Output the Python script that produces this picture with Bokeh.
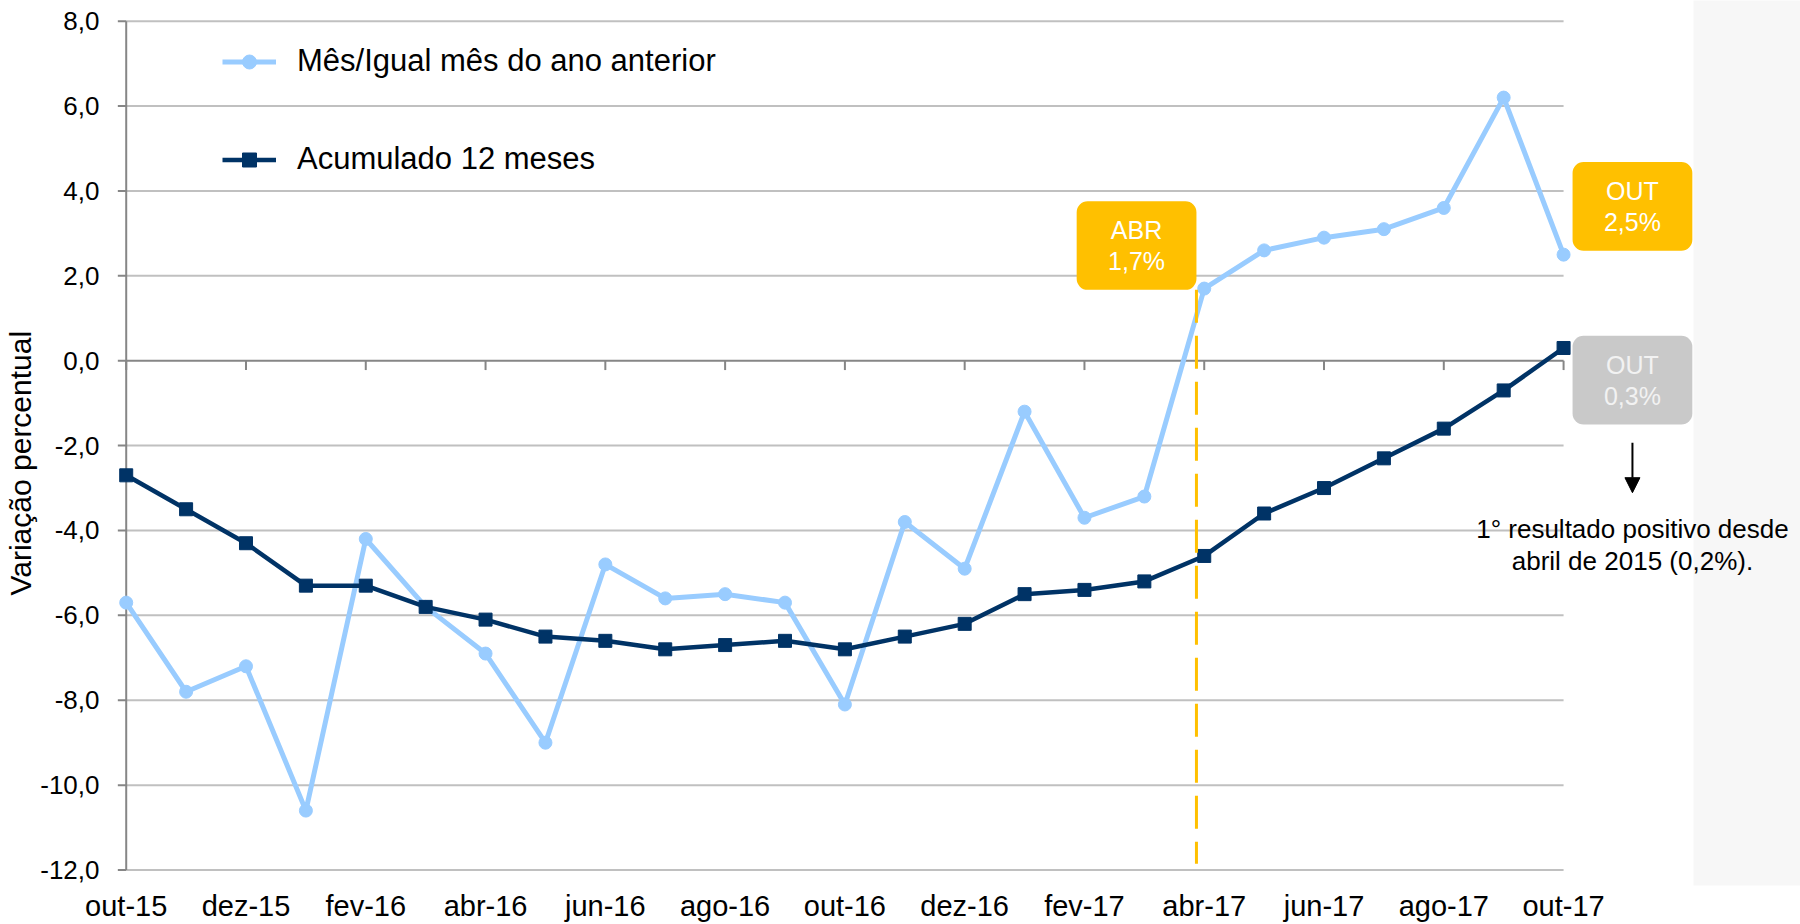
from bokeh.plotting import figure
from bokeh.models import (Range1d, FixedTicker, CustomJSTickFormatter, Legend, LegendItem,
                          BoxAnnotation, Label, Arrow, NormalHead, ColumnDataSource, Title)
from bokeh.core.properties import value
from bokeh.embed import file_html
from bokeh.resources import INLINE

# ---------------- data ----------------
months = ["out-15", "nov-15", "dez-15", "jan-16", "fev-16", "mar-16", "abr-16", "mai-16",
          "jun-16", "jul-16", "ago-16", "set-16", "out-16", "nov-16", "dez-16", "jan-17",
          "fev-17", "mar-17", "abr-17", "mai-17", "jun-17", "jul-17", "ago-17", "set-17", "out-17"]
mes_igual_ano_anterior = [-5.7, -7.8, -7.2, -10.6, -4.2, -5.8, -6.9, -9.0, -4.8, -5.6, -5.5, -5.7,
                          -8.1, -3.8, -4.9, -1.2, -3.7, -3.2, 1.7, 2.6, 2.9, 3.1, 3.6, 6.2, 2.5]
acumulado_12_meses = [-2.7, -3.5, -4.3, -5.3, -5.3, -5.8, -6.1, -6.5, -6.6, -6.8, -6.7, -6.6,
                      -6.8, -6.5, -6.2, -5.5, -5.4, -5.2, -4.6, -3.6, -3.0, -2.3, -1.6, -0.7, 0.3]
y_ticks = [-12, -10, -8, -6, -4, -2, 0, 2, 4, 6, 8]
series_names = ["Mês/Igual mês do ano anterior", "Acumulado 12 meses"]
y_title = "Variação percentual"
note_lines = ["1° resultado positivo desde", "abril de 2015 (0,2%)."]

# ---------------- styles ----------------
FONT = "Liberation Sans"
LIGHT = "#99CCFF"
DARK = "#003366"
YELLOW = "#FFC000"
GREYBOX = "#C9C9C9"
GRID = "#C0C0C0"
AXIS = "#868686"

n = len(months)
xs = list(range(n))
src = ColumnDataSource(dict(x=xs, m=mes_igual_ano_anterior, a=acumulado_12_meses))
i_abr = months.index("abr-17")
i_out = n - 1

p = figure(width=1800, height=924,
           x_range=Range1d(-0.229, 27.956), y_range=Range1d(-12.365, 8.488),
           output_backend="svg", toolbar_location=None,
           min_border_left=112, min_border_right=0, min_border_top=0, min_border_bottom=39,
           background_fill_color="white", border_fill_color="white")
p.outline_line_color = None
p.xgrid.visible = False
p.ygrid.visible = False

# grey side panel
p.add_layout(BoxAnnotation(left=i_out + 2.17, right=1e4, bottom=-1e4, top=1e4,
                           fill_color="#F7F7F7", fill_alpha=1, line_alpha=0, level="underlay"))

# y axis (labels only), ticks/lines drawn manually
p.yaxis.ticker = FixedTicker(ticks=y_ticks)
p.yaxis.formatter = CustomJSTickFormatter(code="return tick.toFixed(1).replace('.', ',');")
p.yaxis.axis_line_color = None
p.yaxis.major_tick_line_color = None
p.yaxis.minor_tick_line_color = None
p.yaxis.major_tick_out = 0
p.yaxis.major_tick_in = 0
p.yaxis.major_label_standoff = 13
p.yaxis.major_label_text_font = FONT
p.yaxis.major_label_text_font_size = "26px"
p.yaxis.major_label_text_color = "black"

# y title in the left panel
p.add_layout(Title(text=y_title, align="left", offset=290, standoff=2,
                   text_font=FONT, text_font_size="30px", text_font_style="normal",
                   text_color="black"), "left")

# x axis labels
even = list(range(0, n, 2))
p.xaxis.ticker = FixedTicker(ticks=even)
p.xaxis.formatter = CustomJSTickFormatter(args=dict(labels=months),
                                          code="return labels[Math.round(tick)] || '';")
p.xaxis.axis_line_color = None
p.xaxis.major_tick_line_color = None
p.xaxis.minor_tick_line_color = None
p.xaxis.major_tick_out = 0
p.xaxis.major_tick_in = 0
p.xaxis.major_label_standoff = 4
p.xaxis.major_label_text_font = FONT
p.xaxis.major_label_text_font_size = "29px"
p.xaxis.major_label_text_color = "black"

# gridlines (from first to last category)
grid_vals = [v for v in y_ticks if v != 0]
p.segment(x0=[0] * len(grid_vals), x1=[i_out] * len(grid_vals), y0=grid_vals, y1=grid_vals,
          line_color=GRID, line_width=2)
# zero line + category ticks
p.segment(x0=[0], x1=[i_out], y0=[0], y1=[0], line_color=AXIS, line_width=2)
p.segment(x0=even, x1=even, y0=[0] * len(even), y1=[-0.22] * len(even), line_color=AXIS, line_width=2)
# y axis line + ticks
p.segment(x0=[0], x1=[0], y0=[y_ticks[0]], y1=[y_ticks[-1]], line_color=AXIS, line_width=2)
p.segment(x0=[-0.14] * len(y_ticks), x1=[0] * len(y_ticks), y0=y_ticks, y1=y_ticks,
          line_color=AXIS, line_width=2)

# series
l1 = p.line("x", "m", source=src, line_color=LIGHT, line_width=5)
s1 = p.scatter("x", "m", source=src, marker="circle", size=13, fill_color=LIGHT, line_color=LIGHT)
l2 = p.line("x", "a", source=src, line_color=DARK, line_width=4.5)
s2 = p.scatter("x", "a", source=src, marker="square", size=13, fill_color=DARK, line_color=DARK)

# dashed marker at abr-17 (drawn over the series)
abr_box_right = i_abr - 0.13
abr_box_bottom = mes_igual_ano_anterior[i_abr] - 0.03
p.segment(x0=[abr_box_right], x1=[abr_box_right], y0=[abr_box_bottom], y1=[-11.85],
          line_color=YELLOW, line_width=3, line_dash="33 13")

legend = Legend(items=[LegendItem(label=series_names[0], renderers=[l1, s1]),
                       LegendItem(label=series_names[1], renderers=[l2, s2])],
                location=(110, 708), orientation="vertical",
                glyph_width=54, glyph_height=35, label_height=35, label_standoff=21,
                spacing=62, padding=0, margin=0, border_line_alpha=0, background_fill_alpha=0,
                label_text_font=FONT, label_text_font_size="31px", label_text_color="black")
p.add_layout(legend)

# highlight boxes
def add_box(left, bottom, fill, l1txt, l2txt, txtcol):
    w, h = 2.0, 2.09
    p.add_layout(BoxAnnotation(left=left, right=left + w, bottom=bottom, top=bottom + h,
                               fill_color=fill, fill_alpha=1, line_alpha=0, border_radius=11))
    cx = left + w / 2
    cy = bottom + h / 2
    for t, dy in ((l1txt, 0.365), (l2txt, -0.365)):
        p.add_layout(Label(x=cx, y=cy + dy, text=t, text_align="center", text_baseline="middle",
                           text_font=FONT, text_font_size="25px", text_color=txtcol))

add_box(abr_box_right - 2.0, abr_box_bottom, YELLOW, "ABR", "1,7%", "white")
add_box(i_out + 0.15, mes_igual_ano_anterior[i_out] + 0.09, YELLOW, "OUT", "2,5%", "white")
add_box(i_out + 0.15, acumulado_12_meses[i_out] + 0.29 - 2.09, GREYBOX, "OUT", "0,3%", "#F2F2F2")

# arrow + note
ax = i_out + 1.15
p.add_layout(Arrow(end=NormalHead(size=15, fill_color="black", line_color="black"),
                   x_start=ax, y_start=-1.93, x_end=ax, y_end=-3.11,
                   line_color="black", line_width=2))
p.text(x=[ax, ax], y=[-3.96, -4.71], text=note_lines, text_align="center",
       text_baseline="alphabetic", text_font=value(FONT), text_font_size="26px", text_color="black")

open("out.html", "w").write(file_html(p, INLINE))
